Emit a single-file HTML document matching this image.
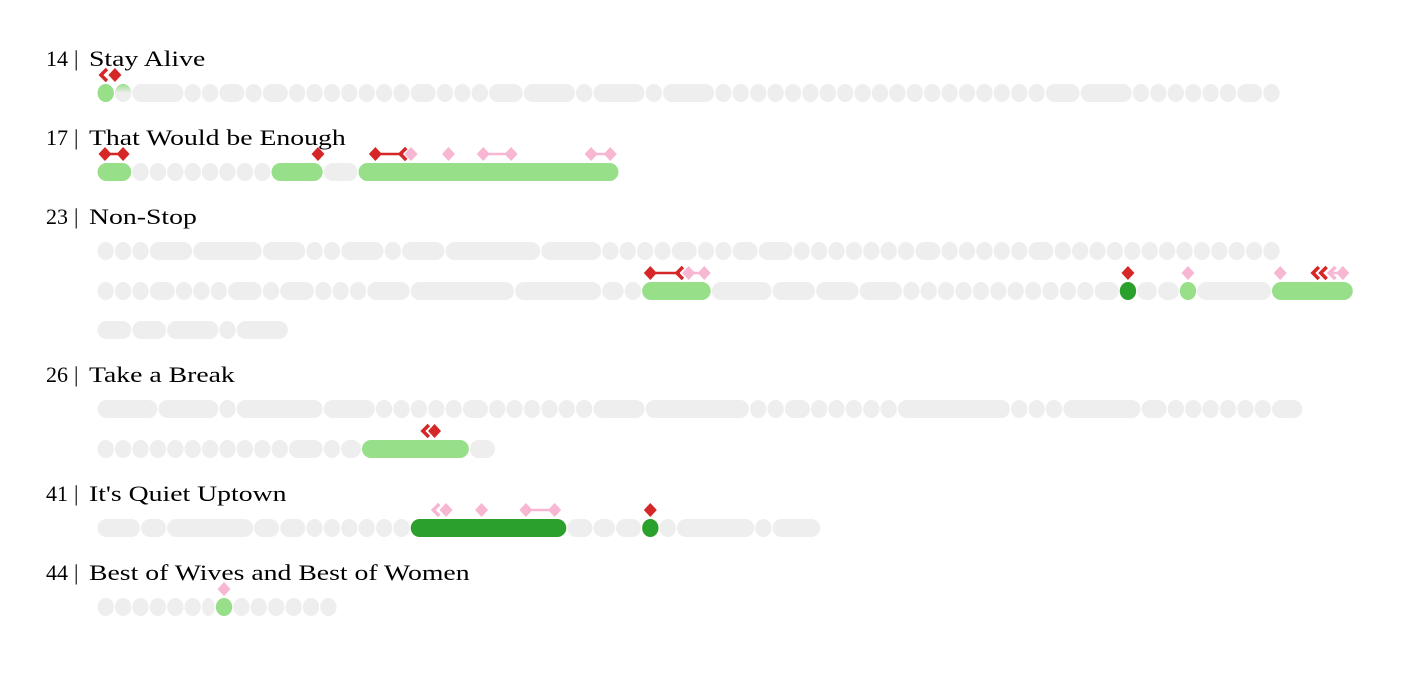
<!DOCTYPE html>
<html><head><meta charset="utf-8">
<style>
html,body{margin:0;padding:0;background:#fff;}
svg{display:block;}
text{font-family:"Liberation Serif","DejaVu Serif",serif;font-size:22px;fill:#000;}
</style></head>
<body>
<svg id="chart" width="1418" height="676" viewBox="0 0 1418 676">
<defs>
<linearGradient id="gfade" x1="0" y1="0" x2="0" y2="1">
<stop offset="0" stop-color="#98df8a"/><stop offset="0.5" stop-color="#eeeeee"/>
</linearGradient>
</defs>
</svg>
<script>
// ---- data ----
const songNumbers = ["14","17","23","26","41","44"];
const songTitles = ["Stay Alive","That Would be Enough","Non-Stop","Take a Break","It's Quiet Uptown","Best of Wives and Best of Women"];
const titleRowY = [66,145,224,382,501,580];
// word durations (beats) per line; color code: 0 grey, 1 light green, 2 dark green, 3 faded
const line0Dur = [1,1,3,1,1,1.5,1,1.5,1,1,1,1,1,1,1,1.5,1,1,1,2,3,1,3,1,3,1,1,1,1,1,1,1,1,1,1,1,1,1,1,1,1,1,1,1,2,3,1,1,1,1,1,1,1.5,1];
const line0Col = [1,3];
const line1Dur = [2,1,1,1,1,1,1,1,1,3,2,15];
const line1Col = [1,0,0,0,0,0,0,0,0,1,0,1];
const line2Dur = [1,1,1,2.5,4,2.5,1,1,2.5,1,2.5,5.5,3.5,1,1,1,1,1.5,1,1,1.5,2,1,1,1,1,1,1,1,1.5,1,1,1,1,1,1.5,1,1,1,1,1,1,1,1,1,1,1,1,1];
const line3Dur = [1,1,1,1.5,1,1,1,2,1,2,1,1,1,2.5,6,5,1.3,1,4,3.5,2.5,2.5,2.5,1,1,1,1,1,1,1,1,1,1,1,1.45,1,1.2,1.25,1,4.3,4.7];
const line3Col = [0,0,0,0,0,0,0,0,0,0,0,0,0,0,0,0,0,0,1,0,0,0,0,0,0,0,0,0,0,0,0,0,0,0,0,2,0,0,1,0,1];
const line4Dur = [2,2,3,1,3];
const line5Dur = [3.5,3.5,1,5,3,1,1,1,1,1,1.5,1,1,1,1,1,1,3,6,1,1,1.5,1,1,1,1,1,6.5,1,1,1,4.5,1.5,1,1,1,1,1,1,1.8];
const line6Dur = [1,1,1,1,1,1,1,1,1,1,1,2,1,1.2,6.2,1.5];
const line6Col = [0,0,0,0,0,0,0,0,0,0,0,0,0,0,1,0];
const line7Dur = [2.5,1.5,5,1.5,1.5,1,1,1,1,1,1,9,1.5,1.3,1.5,1,1,4.5,1,2.8];
const line7Col = [0,0,0,0,0,0,0,0,0,0,0,2,0,0,0,2,0,0,0,0];
const line8Dur = [1,1,1,1,1,1,0.8,1,1,1,1,1,1,1];
const line8Col = [0,0,0,0,0,0,0,1,0,0,0,0,0,0];
const lineY = [93,172,251,291,330,409,449,528,607];
// markers: beat position, type (d red diamond, p pink diamond, ar red arrow, ap pink arrow)
const mk0 = [[0.4,"ar"],[1.03,"d"]];
const mk1 = [[0.46,"d"],[1.5,"d"],[12.7,"d"],[16,"d"],[17.6,"ar"],[18.05,"p"],[20.2,"p"],[22.2,"p"],[23.8,"p"],[28.4,"p"],[29.5,"p"]];
const ln1 = [[0.46,1.5,"r"],[16,17.6,"r"],[22.2,23.8,"p"],[28.4,29.5,"p"]];
const mk3 = [[31.8,"d"],[33.5,"ar"],[34,"p"],[34.9,"p"],[59.25,"d"],[62.7,"p"],[68,"p"],[70.05,"ar"],[70.5,"ar"],[71,"ap"],[71.6,"p"]];
const ln3 = [[31.8,33.5,"r"],[34,34.9,"p"],[71,71.6,"p"]];
const mk6 = [[18.9,"ar"],[19.4,"d"]];
const mk7 = [[19.5,"ap"],[20.06,"p"],[22.1,"p"],[24.65,"p"],[26.3,"p"],[31.8,"d"]];
const ln7 = [[24.65,26.3,"p"]];
const mk8 = [[7.3,"p"]];

// ---- rendering ----
const NS="http://www.w3.org/2000/svg";
const svg=document.getElementById("chart");
const X0=97, U=17.4;
const xs = t => X0 + t*U;
const fills=["#eeeeee","#98df8a","#2ca02c","url(#gfade)"];
const RED="#d62728", PINK="#f7b6d2";
function mk(tag,attrs){const e=document.createElementNS(NS,tag);for(const k in attrs)e.setAttribute(k,attrs[k]);svg.appendChild(e);return e;}

songNumbers.forEach((n,i)=>{
  const a=mk("text",{x:68,y:titleRowY[i],"text-anchor":"end"});
  a.textContent=n;
  
  
  const bar=mk("text",{x:74,y:titleRowY[i]});
  bar.textContent="|";
  
  
  const b=mk("text",{x:89,y:titleRowY[i]});
  b.textContent=songTitles[i];
  
  
  const w=b.getComputedTextLength();
  if(w>0){b.setAttribute("textLength",(w*1.26).toFixed(1));b.setAttribute("lengthAdjust","spacingAndGlyphs");}
});

function drawLine(dur,col,li){
  let t=0;
  dur.forEach((d,j)=>{
    const c=(col&&col[j]!==undefined)?col[j]:0;
    const x=xs(t)+0.5, w=d*U-1;
    const r=mk("rect",{x:x,y:lineY[li]-9,width:w,height:18,rx:Math.min(9,w/2),ry:9,fill:fills[c]});
    
    
    t+=d;
  });
}
drawLine(line0Dur,line0Col,0);
drawLine(line1Dur,line1Col,1);
drawLine(line2Dur,null,2);
drawLine(line3Dur,line3Col,3);
drawLine(line4Dur,null,4);
drawLine(line5Dur,null,5);
drawLine(line6Dur,line6Col,6);
drawLine(line7Dur,line7Col,7);
drawLine(line8Dur,line8Col,8);

function drawLinks(lns,li){
  const y=lineY[li]-18;
  lns.forEach(l=>{
    const e=mk("line",{x1:xs(l[0]),x2:xs(l[1]),y1:y,y2:y,stroke:l[2]==="r"?RED:PINK,"stroke-width":2.5});
    
    
  });
}
function drawMarks(ms,li){
  const y=lineY[li]-18;
  ms.forEach(m=>{
    const x=xs(m[0]);
    const color=(m[1]==="d"||m[1]==="ar")?RED:PINK;
    let e;
    if(m[1]==="d"||m[1]==="p"){
      e=mk("polygon",{points:`${x},${y-7} ${x+6.5},${y} ${x},${y+7} ${x-6.5},${y}`,fill:color});
      
    } else {
      e=mk("polyline",{points:`${x+3},${y-6} ${x-3},${y} ${x+3},${y+6}`,fill:"none",stroke:color,"stroke-width":3.5});
      
    }
    
  });
}
drawMarks(mk0,0);
drawLinks(ln1,1);drawMarks(mk1,1);
drawLinks(ln3,3);drawMarks(mk3,3);
drawMarks(mk6,6);
drawLinks(ln7,7);drawMarks(mk7,7);
drawMarks(mk8,8);
</script>
</body></html>
